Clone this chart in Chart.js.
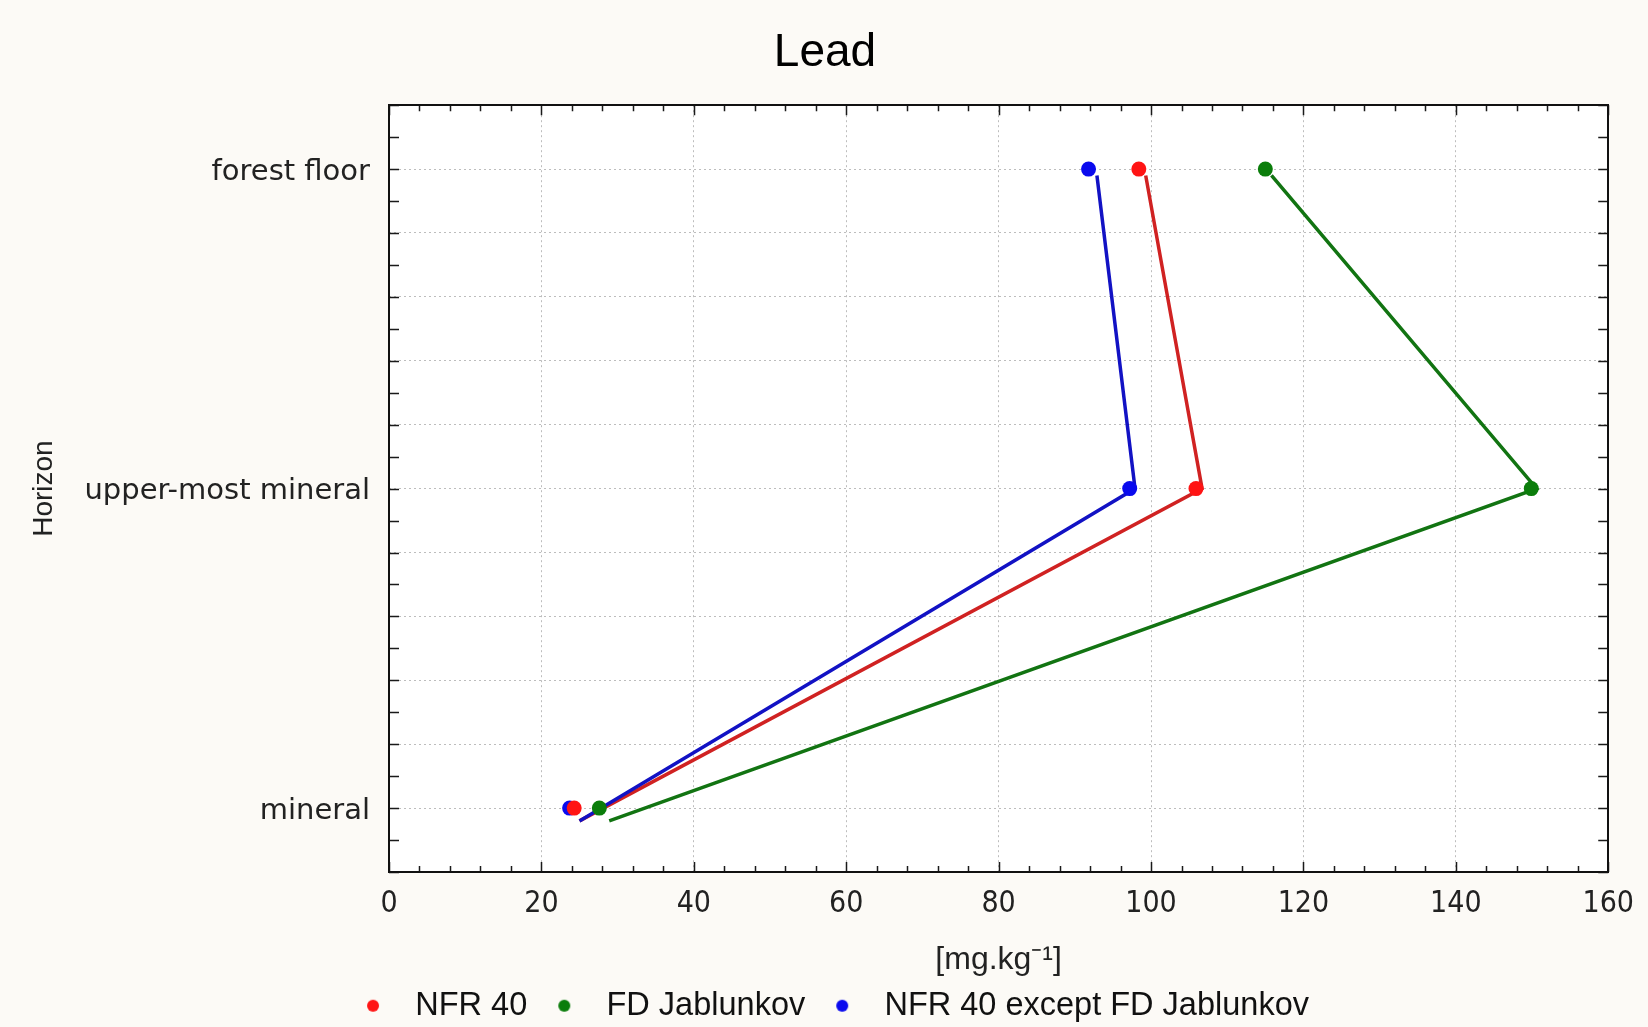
<!DOCTYPE html>
<html><head><meta charset="utf-8">
<script src="https://cdn.jsdelivr.net/npm/chart.js@4"></script>
<style>html,body{margin:0;padding:0;background:#fcfaf6;} canvas{display:block}</style>
</head><body>
<canvas id="c" width="1648" height="1027"></canvas>
<script>
// Categories (position on the vertical axis: 2 = top)
const horizons = ['mineral', 'upper-most mineral', 'forest floor'];
const horizonPos = [2, 1, 0];            // forest floor, upper-most mineral, mineral
const seriesNames = ['NFR 40', 'FD Jablunkov', 'NFR 40 except FD Jablunkov'];
// Marker values [mg.kg-1] (forest floor, upper-most mineral, mineral)
const nfr40 = [98.4, 105.9, 24.3];
const fdJablunkov = [115.0, 149.9, 27.6];
const nfr40ExceptFd = [91.8, 97.2, 23.7];
// Connecting lines as drawn in the original (slightly offset from markers)
const linePos = [1.98, 1.0, -0.04];
const nfr40Line = [99.3, 106.7, 25.0];
const fdJablunkovLine = [115.8, 150.6, 28.9];
const nfr40ExceptFdLine = [92.9, 97.9, 25.0];
// Axis settings
const xMin = 0, xMax = 160, xStep = 20, xMinorStep = 4;
const yMin = -0.2, yMax = 2.2, yStep = 0.2, yMinorStep = 0.1;

const pointColors = ['#ff1414', '#0b7d0b', '#0a0aee'];
const lineColors = ['#d02222', '#127412', '#1212c4'];

function pts(xs, ys) { return xs.map((x, i) => ({ x: x, y: ys[i] })); }

function dotImg(color) {
  const c = document.createElement('canvas');
  c.width = 58; c.height = 16;
  const g = c.getContext('2d');
  g.fillStyle = color;
  g.beginPath(); g.arc(32, 8, 6, 0, Math.PI * 2); g.fill();
  return c;
}
const legendDots = pointColors.map(dotImg);

const frame = {
  id: 'frame',
  beforeDraw(chart) {
    const { ctx, chartArea: a } = chart;
    ctx.save();
    ctx.fillStyle = '#fcfaf6';
    ctx.fillRect(0, 0, chart.width, chart.height);
    ctx.fillStyle = '#ffffff';
    ctx.fillRect(a.left, a.top, a.right - a.left, a.bottom - a.top);
    ctx.restore();
  },
  beforeDatasetsDraw(chart) {
    const { ctx, chartArea: a, scales } = chart;
    ctx.save();
    ctx.strokeStyle = '#1a1a1a';
    ctx.lineWidth = 1.5;
    ctx.beginPath();
    for (let v = xMin; v <= xMax + 1e-9; v += xMinorStep) {
      const px = Math.round(scales.x.getPixelForValue(v)) + 0.5;
      const len = (Math.abs(v % xStep) < 1e-9) ? 10 : 6;
      ctx.moveTo(px, a.bottom); ctx.lineTo(px, a.bottom - len);
      ctx.moveTo(px, a.top); ctx.lineTo(px, a.top + len);
    }
    const n = Math.round((yMax - yMin) / yMinorStep);
    for (let k = 0; k <= n; k++) {
      const v = yMin + k * yMinorStep;
      const py = Math.round(scales.y.getPixelForValue(v)) + 0.5;
      ctx.moveTo(a.left, py); ctx.lineTo(a.left + 10, py);
      ctx.moveTo(a.right, py); ctx.lineTo(a.right - 10, py);
    }
    ctx.stroke();
    ctx.lineWidth = 2;
    ctx.strokeStyle = '#111';
    ctx.strokeRect(Math.round(a.left), Math.round(a.top), Math.round(a.right - a.left), Math.round(a.bottom - a.top));
    ctx.restore();
  }
};

Chart.defaults.font.family = "'Liberation Sans', Arial, sans-serif";
Chart.defaults.color = '#222';

const datasets = [
  { label: seriesNames[0], data: pts(nfr40, horizonPos) },
  { label: seriesNames[1], data: pts(fdJablunkov, horizonPos) },
  { label: seriesNames[2], data: pts(nfr40ExceptFd, horizonPos) }
].map((d, i) => Object.assign(d, {
  showLine: false, pointRadius: 7.5, pointStyle: 'circle',
  backgroundColor: pointColors[i], borderColor: pointColors[i], borderWidth: 0
}));

const lineSets = [
  { label: seriesNames[2] + ' line', data: pts(nfr40ExceptFdLine, linePos), color: lineColors[2] },
  { label: seriesNames[0] + ' line', data: pts(nfr40Line, linePos), color: lineColors[0] },
  { label: seriesNames[1] + ' line', data: pts(fdJablunkovLine, linePos), color: lineColors[1] }
].map(d => ({
  label: d.label, data: d.data, showLine: true, pointRadius: 0, borderWidth: 3.5,
  borderColor: d.color, backgroundColor: d.color, tension: 0, fill: false
}));

new Chart(document.getElementById('c'), {
  type: 'scatter',
  data: { datasets: datasets.concat(lineSets) },
  options: {
    responsive: false,
    animation: false,
    events: [],
    layout: { padding: { left: 0, right: -2, top: 0, bottom: -5 } },
    plugins: {
      tooltip: { enabled: false },
      title: {
        display: true, text: 'Lead', color: '#000',
        font: { size: 46, weight: 'normal' },
        padding: { top: 26, bottom: 24 }
      },
      legend: {
        position: 'bottom',
        labels: {
          usePointStyle: true, pointStyleWidth: 58, boxHeight: 16,
          padding: 5, color: '#111',
          font: { size: 32.5 },
          filter: (item) => item.datasetIndex < 3,
          generateLabels: (chart) => {
            const items = Chart.defaults.plugins.legend.labels.generateLabels(chart);
            items.forEach(it => { if (it.datasetIndex < 3) it.pointStyle = legendDots[it.datasetIndex]; });
            return items;
          }
        }
      }
    },
    scales: {
      x: {
        type: 'linear', min: xMin, max: xMax,
        ticks: { stepSize: xStep, padding: 14, color: '#222',
          font: { family: "'Liberation Sans Narrow', 'DejaVu Sans Condensed', sans-serif", size: 30 } },
        grid: { color: '#bdbdbd', drawTicks: false, lineWidth: 1 },
        border: { display: false, dash: [2, 3] },
        title: { display: true, text: '[mg.kg⁻¹]', color: '#222', font: { size: 32 }, padding: { top: 0, bottom: 5.5 } },
        afterFit(s) { s.height = 112.5; }
      },
      y: {
        type: 'linear', min: yMin, max: yMax,
        ticks: {
          stepSize: yStep, autoSkip: false, padding: 19, color: '#222', labelOffset: 3,
          font: { family: "'DejaVu Sans', sans-serif", size: 29 },
          callback: (v) => {
            const r = Math.round(v);
            return (Math.abs(v - r) < 1e-6 && horizons[r]) ? horizons[r] : '';
          }
        },
        grid: { color: '#bdbdbd', drawTicks: false, lineWidth: 1 },
        border: { display: false, dash: [2, 3] },
        title: { display: true, text: 'Horizon', color: '#222', font: { size: 28 }, padding: { top: 27, bottom: 0 } },
        afterFit(s) { s.width = 389; }
      },
      rightSpace: {
        type: 'linear', position: 'right', display: true,
        grid: { display: false, drawTicks: false }, border: { display: false },
        ticks: { display: false },
        afterFit(s) { s.width = 32; }
      }
    }
  },
  plugins: [frame]
});
</script>
</body></html>
